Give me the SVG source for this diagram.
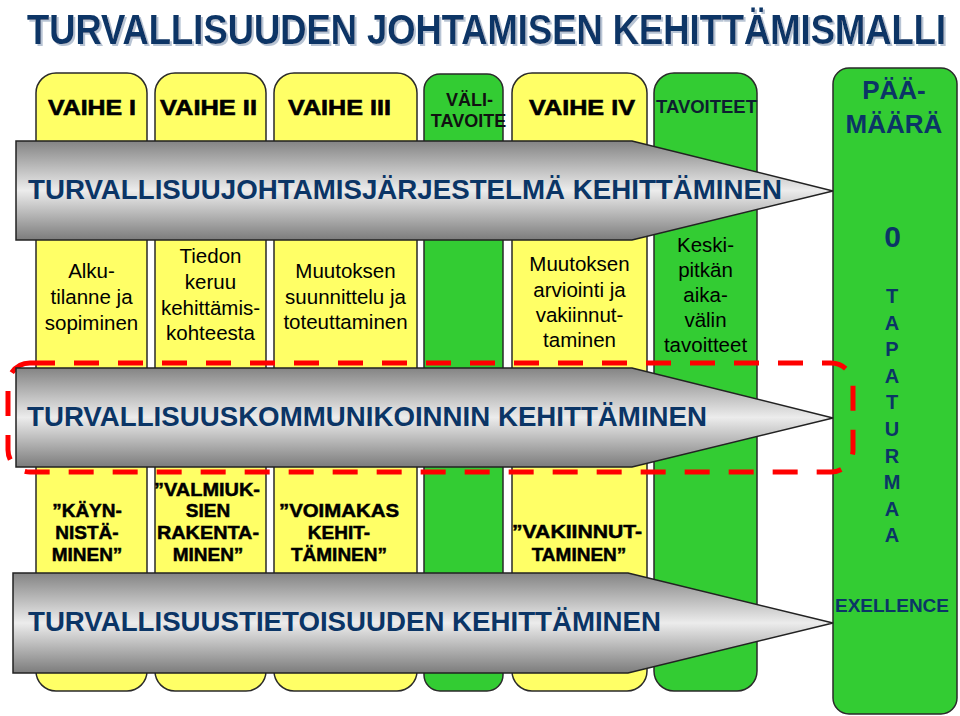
<svg xmlns="http://www.w3.org/2000/svg" width="960" height="716" viewBox="0 0 960 716">
<defs>
<linearGradient id="steel" x1="0" y1="0" x2="0" y2="1">
<stop offset="0" stop-color="#848484"/>
<stop offset="0.5" stop-color="#ececec"/>
<stop offset="1" stop-color="#7c7c7c"/>
</linearGradient>
<filter id="shadow" x="-5%" y="-30%" width="110%" height="160%">
<feOffset in="SourceAlpha" dx="2" dy="2" result="o"/>
<feFlood flood-color="#b8c4d4"/>
<feComposite in2="o" operator="in" result="s"/>
<feMerge><feMergeNode in="s"/><feMergeNode in="SourceGraphic"/></feMerge>
</filter>
<style>
.y{fill:#FFFF66;stroke:#2a2a2a;stroke-width:1.5}
.g{fill:#33CC33;stroke:#2a2a2a;stroke-width:1.5}
.arr{fill:url(#steel);stroke:#222;stroke-width:1.5}
text{font-family:"Liberation Sans",Arial,sans-serif}
.hd{font-size:22px;font-weight:bold;fill:#000;stroke:#000;stroke-width:0.6;text-anchor:middle}
.hs{font-size:18px;font-weight:bold;fill:#111;text-anchor:middle}
.nv{fill:#0b3566}
.bd{font-size:20.5px;fill:#000;text-anchor:middle}
.q{font-size:19px;font-weight:bold;fill:#000;stroke:#000;stroke-width:0.5;text-anchor:middle}
.at{font-size:27px;font-weight:bold;fill:#0b3566}
.vl{font-size:20px;font-weight:bold;fill:#0b3566;text-anchor:middle}
.red{fill:none;stroke:#FF0000;stroke-width:5;stroke-dasharray:25 19}
</style>
</defs>

<g id="title" transform="translate(27,44) scale(1,1.17)">
<text x="0" y="0" font-size="36" font-weight="bold" fill="#0b3566" filter="url(#shadow)" textLength="919" lengthAdjust="spacingAndGlyphs">TURVALLISUUDEN JOHTAMISEN KEHITTÄMISMALLI</text>
</g>

<g id="vaihe1">
<rect class="y" x="36" y="73" width="111" height="618" rx="20"/>
<text class="hd" x="92" y="115" textLength="88" lengthAdjust="spacingAndGlyphs">VAIHE I</text>
<text class="bd" x="91.5" y="278">Alku-</text>
<text class="bd" x="91.5" y="304">tilanne ja</text>
<text class="bd" x="91.5" y="330">sopiminen</text>
<text class="q" x="87" y="517">”KÄYN-</text>
<text class="q" x="87" y="539">NISTÄ-</text>
<text class="q" x="87" y="561">MINEN”</text>
</g>

<g id="vaihe2">
<rect class="y" x="155" y="73" width="111" height="618" rx="20"/>
<text class="hd" x="208.5" y="115" textLength="97" lengthAdjust="spacingAndGlyphs">VAIHE II</text>
<text class="bd" x="210.5" y="263">Tiedon</text>
<text class="bd" x="210.5" y="289">keruu</text>
<text class="bd" x="210.5" y="315">kehittämis-</text>
<text class="bd" x="210.5" y="340">kohteesta</text>
<text class="q" x="207" y="496" textLength="106" lengthAdjust="spacingAndGlyphs">”VALMIUK-</text>
<text class="q" x="208" y="517">SIEN</text>
<text class="q" x="208" y="539" textLength="102" lengthAdjust="spacingAndGlyphs">RAKENTA-</text>
<text class="q" x="208" y="561">MINEN”</text>
</g>

<g id="vaihe3">
<rect class="y" x="274" y="73" width="143" height="618" rx="20"/>
<text class="hd" x="339.5" y="115" textLength="103" lengthAdjust="spacingAndGlyphs">VAIHE III</text>
<text class="bd" x="345.5" y="278">Muutoksen</text>
<text class="bd" x="345.5" y="304">suunnittelu ja</text>
<text class="bd" x="345.5" y="329">toteuttaminen</text>
<text class="q" x="339" y="517" textLength="120" lengthAdjust="spacingAndGlyphs">”VOIMAKAS</text>
<text class="q" x="339" y="539">KEHIT-</text>
<text class="q" x="339" y="561">TÄMINEN”</text>
</g>

<g id="valitavoite">
<rect class="g" x="424" y="74" width="79" height="617" rx="16"/>
<text class="hs" x="469.5" y="106">VÄLI-</text>
<text class="hs" x="468.5" y="127">TAVOITE</text>
</g>

<g id="vaihe4">
<rect class="y" x="512" y="73" width="135" height="618" rx="20"/>
<text class="hd" x="582" y="115" textLength="106" lengthAdjust="spacingAndGlyphs">VAIHE IV</text>
<text class="bd" x="579.5" y="271">Muutoksen</text>
<text class="bd" x="579.5" y="297">arviointi ja</text>
<text class="bd" x="579.5" y="322">vakiinnut-</text>
<text class="bd" x="579.5" y="347">taminen</text>
<text class="q" x="577" y="538" textLength="130" lengthAdjust="spacingAndGlyphs">”VAKIINNUT-</text>
<text class="q" x="579" y="561">TAMINEN”</text>
</g>

<g id="tavoitteet">
<rect class="g" x="654" y="73" width="103" height="618" rx="20"/>
<text x="706.5" y="113" font-size="19" font-weight="bold" fill="#0e1e30" text-anchor="middle" textLength="101" lengthAdjust="spacingAndGlyphs">TAVOITEET</text>
<text class="bd" x="705.5" y="252" fill="#0e2238">Keski-</text>
<text class="bd" x="705.5" y="277" fill="#0e2238">pitkän</text>
<text class="bd" x="705.5" y="302" fill="#0e2238">aika-</text>
<text class="bd" x="705.5" y="327" fill="#0e2238">välin</text>
<text class="bd" x="705.5" y="352" fill="#0e2238">tavoitteet</text>
</g>

<g id="paamaara">
<rect class="g" x="833" y="68" width="124" height="646" rx="16"/>
<text x="894" y="99" font-size="26" font-weight="bold" class="nv" text-anchor="middle">PÄÄ-</text>
<text x="894" y="133" font-size="26" font-weight="bold" class="nv" text-anchor="middle">MÄÄRÄ</text>
<text x="892.5" y="247" font-size="30" font-weight="bold" class="nv" text-anchor="middle">0</text>
<text class="vl" x="892" y="303">T</text>
<text class="vl" x="892" y="329.6">A</text>
<text class="vl" x="892" y="356.2">P</text>
<text class="vl" x="892" y="382.8">A</text>
<text class="vl" x="892" y="409.4">T</text>
<text class="vl" x="892" y="436">U</text>
<text class="vl" x="892" y="462.6">R</text>
<text class="vl" x="892" y="489.2">M</text>
<text class="vl" x="892" y="515.8">A</text>
<text class="vl" x="892" y="542.4">A</text>
<text x="892" y="612" font-size="18.5" font-weight="bold" class="nv" text-anchor="middle" textLength="114" lengthAdjust="spacingAndGlyphs">EXELLENCE</text>
</g>

<g id="kommunikointi-frame">
<rect class="red" x="8" y="363" width="845" height="109" rx="22"/>
</g>

<g id="connectors">
<g id="arrow-johtamisjarjestelma">
<path class="arr" d="M16,141 L632,141 L833,191 L632,240 L16,240 Z"/>
<text class="at" x="28" y="199" textLength="754" lengthAdjust="spacingAndGlyphs">TURVALLISUUJOHTAMISJÄRJESTELMÄ KEHITTÄMINEN</text>
</g>
<g id="arrow-kommunikointi">
<path class="arr" d="M16,368 L632,368 L833,418 L632,467 L16,467 Z"/>
<text class="at" x="27" y="426" textLength="680" lengthAdjust="spacingAndGlyphs">TURVALLISUUSKOMMUNIKOINNIN KEHITTÄMINEN</text>
</g>
<g id="arrow-tietoisuus">
<path class="arr" d="M13,573 L628,573 L833,623 L628,673 L13,673 Z"/>
<text class="at" x="28" y="631" textLength="633" lengthAdjust="spacingAndGlyphs" font-weight="normal">TURVALLISUUSTIETOISUUDEN KEHITTÄMINEN</text>
</g>
</g>
</svg>
